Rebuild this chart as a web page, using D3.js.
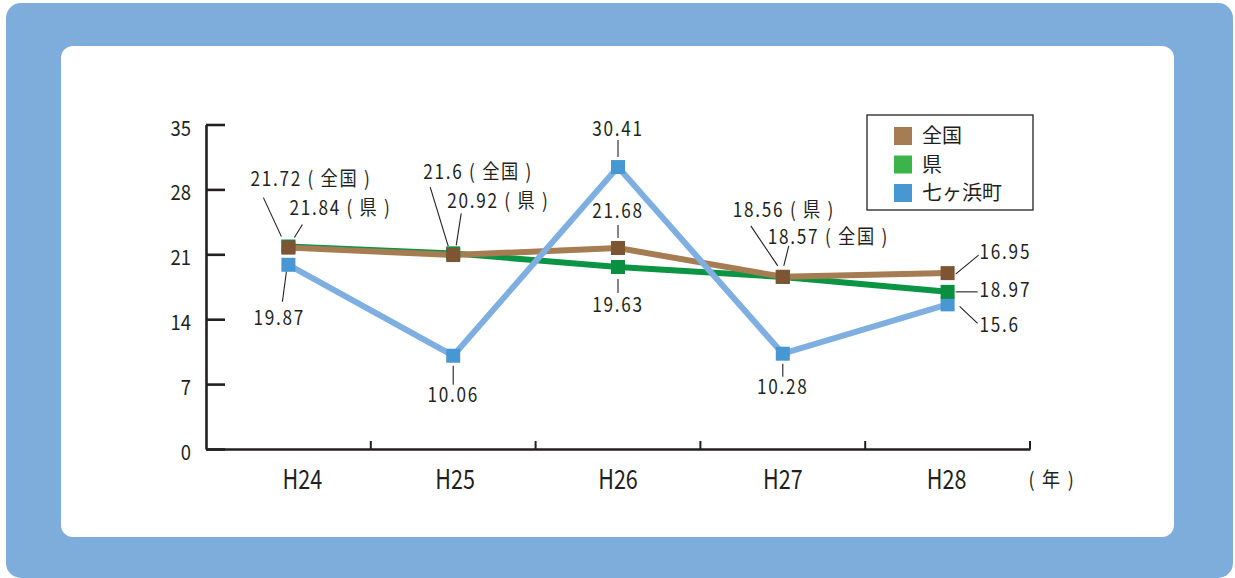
<!DOCTYPE html>
<html>
<head>
<meta charset="utf-8">
<script src="https://cdn.jsdelivr.net/npm/d3@7"></script>
<style>
  body { margin: 0; background: #fff; }
  svg { display: block; }
  text { font-family: "Noto Sans CJK JP", "Noto Sans", sans-serif; fill: #231f20; }
</style>
</head>
<body>
<svg id="chart" width="1235" height="578"></svg>
<script>
// data
const years = ['H24', 'H25', 'H26', 'H27', 'H28'];
const zenkoku = [21.72, 20.92, 21.68, 18.57, 18.97];
const ken = [21.84, 21.1, 19.63, 18.56, 16.95];
const town = [19.87, 10.06, 30.41, 10.28, 15.6];
const seriesNames = ['全国', '県', '七ヶ浜町'];
const yTicks = [0, 7, 14, 21, 28, 35];
const unitLabel = '( 年 )';

// value labels exactly as printed on the original chart
const labelTexts = [
  '21.72 ( 全国 )', '21.84 ( 県 )', '19.87',
  '21.6 ( 全国 )', '20.92 ( 県 )', '10.06',
  '30.41', '21.68', '19.63',
  '18.56 ( 県 )', '18.57 ( 全国 )', '10.28',
  '16.95', '18.97', '15.6'
];

const series = [
  { name: seriesNames[0], values: zenkoku, line: '#a67c52', mark: '#7e5533', key: '#a67c52' },
  { name: seriesNames[1], values: ken, line: '#0b9444', mark: '#0a8e40', key: '#3bb44a' },
  { name: seriesNames[2], values: town, line: '#7fafe0', mark: '#4797d3', key: '#4797d3' }
];

// where each label sits: series index, point index, offset of text and leader from the point
const labelLayout = [
  { s: 0, i: 0, dx: -38, dy: -62, a: 'start', l: [-25, -50, -7, -11] },
  { s: 1, i: 0, dx: 1, dy: -32, a: 'start', l: [14, -22, 6, -9] },
  { s: 2, i: 0, dx: -35, dy: 60, a: 'start', l: [-2, 7, -6, 37] },
  { s: 0, i: 1, dx: -30, dy: -76, a: 'start', l: [-23, -68, -5, -9] },
  { s: 1, i: 1, dx: -6, dy: -45, a: 'start', l: [8, -40, 3, -8] },
  { s: 2, i: 1, dx: 0, dy: 46, a: 'middle', l: [0, 10, 0, 29] },
  { s: 2, i: 2, dx: 0, dy: -31, a: 'middle', l: [0, -27, 0, -10] },
  { s: 0, i: 2, dx: 0, dy: -30, a: 'middle', l: [0, -23, 0, -10] },
  { s: 1, i: 2, dx: 0, dy: 45, a: 'middle', l: [0, 12, 0, 26] },
  { s: 1, i: 3, dx: -50, dy: -60, a: 'start', l: [-32, -51, -5, -11] },
  { s: 0, i: 3, dx: -15, dy: -33, a: 'start', l: [6, -31, 1, -11] },
  { s: 2, i: 3, dx: 0, dy: 40, a: 'middle', l: [0, 10, 0, 23] },
  { s: 0, i: 4, dx: 32, dy: -14, a: 'start', l: [8, 1, 31, -18] },
  { s: 1, i: 4, dx: 32, dy: 5, a: 'start', l: [8, 0, 30, 0] },
  { s: 2, i: 4, dx: 32, dy: 28, a: 'start', l: [12, 2, 30, 19] }
];

const ink = '#231f20';
const svg = d3.select('#chart');

// frame
svg.append('rect').attr('x', 6).attr('y', 3).attr('width', 1227).attr('height', 575)
  .attr('rx', 15).attr('fill', '#7eaddb');
svg.append('rect').attr('x', 61).attr('y', 46).attr('width', 1113).attr('height', 491)
  .attr('rx', 12).attr('fill', '#fff');

const x = d3.scaleBand().domain(years).range([206, 1030]);
const y = d3.scaleLinear().domain([0, 35]).range([449, 124.5]);
const cx = d => x(d) + x.bandwidth() / 2;

// condensed text helper
function txt(g, px, py, s, size, anchor, sx, ls) {
  return g.append('text')
    .attr('transform', `translate(${px},${py}) scale(${sx},1)`)
    .attr('text-anchor', anchor)
    .style('font-size', size + 'px')
    .style('letter-spacing', (ls || 0) + 'px')
    .text(s);
}

// y axis
const gY = svg.append('g').attr('transform', 'translate(206,0)')
  .call(d3.axisLeft(y).tickValues(yTicks).tickSize(-19).tickSizeOuter(0).tickFormat(''));
gY.selectAll('path, line').attr('stroke', ink).attr('stroke-width', 2.6);
yTicks.forEach(t => txt(svg, 191, y(t) + 11, String(t), 21, 'end', 0.88));

// x axis
const gX = svg.append('g').attr('transform', 'translate(0,449)')
  .call(d3.axisBottom(x).tickSize(0).tickSizeOuter(0).tickFormat(''));
gX.select('.domain').attr('stroke', ink).attr('stroke-width', 2.6);
const bounds = years.slice(1).map(d => x(d)).concat([x.range()[1]]);
svg.append('g').selectAll('line').data(bounds).join('line')
  .attr('x1', d => d).attr('x2', d => d).attr('y1', 449).attr('y2', 441)
  .attr('stroke', ink).attr('stroke-width', 2);
const xLabelNudge = [14, 2, 0, 0, -1];
years.forEach((d, i) => txt(svg, cx(d) + xLabelNudge[i], 489, d, 27, 'middle', 0.8));
txt(svg, 1052, 487, unitLabel, 20, 'middle', 0.9, 2);

// lines: green, brown, blue ; markers: blue, green, brown
const line = d3.line().x((v, i) => cx(years[i])).y(v => y(v));
[1, 0, 2].forEach(k => {
  svg.append('path').datum(series[k].values)
    .attr('d', line).attr('fill', 'none')
    .attr('stroke', series[k].line).attr('stroke-width', 6)
    .attr('stroke-linejoin', 'miter');
});
const ms = 14;
[2, 1, 0].forEach(k => {
  svg.append('g').selectAll('rect').data(series[k].values).join('rect')
    .attr('x', (v, i) => cx(years[i]) - ms / 2)
    .attr('y', v => y(v) - ms / 2)
    .attr('width', ms).attr('height', ms)
    .attr('fill', series[k].mark);
});

// value labels with leaders
const gL = svg.append('g');
labelLayout.forEach((p, n) => {
  const px = cx(years[p.i]);
  const py = y(series[p.s].values[p.i]);
  gL.append('line')
    .attr('x1', px + p.l[0]).attr('y1', py + p.l[1])
    .attr('x2', px + p.l[2]).attr('y2', py + p.l[3])
    .attr('stroke', ink).attr('stroke-width', 1.1);
  txt(gL, px + p.dx, py + p.dy, labelTexts[n], 20, p.a, 0.86, 2);
});

// legend
const lg = svg.append('g').attr('transform', 'translate(867,115)');
lg.append('rect').attr('width', 166).attr('height', 95)
  .attr('fill', '#fff').attr('stroke', ink).attr('stroke-width', 1.3);
series.forEach((s, k) => {
  const cy = 21 + k * 28.5;
  lg.append('rect').attr('x', 27).attr('y', cy - 9).attr('width', 18).attr('height', 18)
    .attr('fill', s.key);
  lg.append('text').attr('x', 55).attr('y', cy + 7).style('font-size', '20px').text(s.name);
});
</script>
</body>
</html>
